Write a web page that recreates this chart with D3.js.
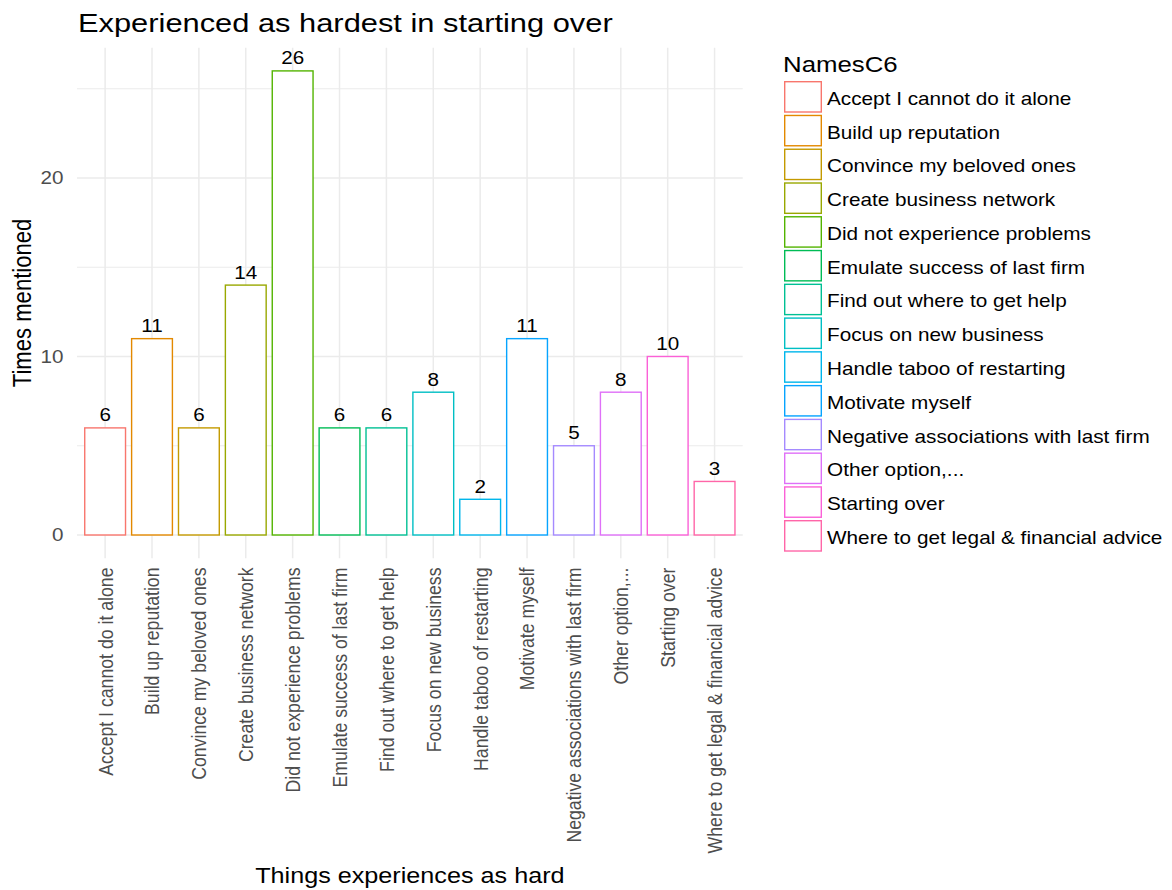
<!DOCTYPE html>
<html>
<head>
<meta charset="utf-8">
<script src="https://cdn.jsdelivr.net/npm/d3@7"></script>
<style>
  html, body { margin: 0; padding: 0; background: #ffffff; }
  svg { display: block; font-family: "Liberation Sans", Arial, sans-serif; }
</style>
</head>
<body>
<svg id="chart" width="1172" height="890"></svg>
<script>
// ---- data ----
const categories = [
  "Accept I cannot do it alone",
  "Build up reputation",
  "Convince my beloved ones",
  "Create business network",
  "Did not experience problems",
  "Emulate success of last firm",
  "Find out where to get help",
  "Focus on new business",
  "Handle taboo of restarting",
  "Motivate myself",
  "Negative associations with last firm",
  "Other option,...",
  "Starting over",
  "Where to get legal & financial advice"
];
const counts = [6, 11, 6, 14, 26, 6, 6, 8, 2, 11, 5, 8, 10, 3];
const colors = ["#F8766D", "#E38900", "#C49A00", "#99A800", "#53B400", "#00BC56", "#00C094",
                "#00BFC4", "#00B6EB", "#06A4FF", "#A58AFF", "#DF70F8", "#FB61D7", "#FF66A8"];
const yMajorTicks = [0, 10, 20];
const yMinorTicks = [5, 15, 25];
const titleText = "Experienced as hardest in starting over";
const xTitle = "Things experiences as hard";
const yTitle = "Times mentioned";
const legendTitle = "NamesC6";

// ---- layout ----
const sx = 1.168;           // horizontal stretch of glyphs in the reference
const base = 22.1;
const panel = { left: 77, right: 742.7, top: 47.7, bottom: 558.2 };

const svg = d3.select("#chart");

const x = d3.scaleBand()
  .domain(categories)
  .range([panel.left, panel.right])
  .paddingInner(0.1)
  .paddingOuter(0.15);

const y = d3.scaleLinear()
  .domain([-1.3, 27.3])
  .range([panel.bottom, panel.top]);

const color = d3.scaleOrdinal().domain(categories).range(colors);

function hText(g, tx, ty, str, size, fill, anchor, dy, sxx) {
  return g.append("text")
    .attr("transform", `translate(${tx},${ty}) scale(${sxx || sx},1)`)
    .attr("font-size", size)
    .attr("fill", fill)
    .attr("text-anchor", anchor || "start")
    .attr("dy", dy || 0)
    .text(str);
}
function vText(g, tx, ty, str, size, fill, anchor, dy) {
  return g.append("text")
    .attr("transform", `translate(${tx},${ty}) scale(${sx},1) rotate(-90)`)
    .attr("font-size", size)
    .attr("fill", fill)
    .attr("text-anchor", anchor || "middle")
    .attr("dy", dy || 0)
    .text(str);
}

// ---- grid ----
const grid = svg.append("g");
grid.selectAll(".ymin").data(yMinorTicks).join("line")
  .attr("x1", panel.left).attr("x2", panel.right)
  .attr("y1", d => y(d)).attr("y2", d => y(d))
  .attr("stroke", "#EBEBEB").attr("stroke-width", 1.1);
grid.selectAll(".ymaj").data(yMajorTicks).join("line")
  .attr("x1", panel.left).attr("x2", panel.right)
  .attr("y1", d => y(d)).attr("y2", d => y(d))
  .attr("stroke", "#EBEBEB").attr("stroke-width", 1.5);
grid.selectAll(".xmaj").data(categories).join("line")
  .attr("x1", d => x(d) + x.bandwidth() / 2).attr("x2", d => x(d) + x.bandwidth() / 2)
  .attr("y1", panel.top).attr("y2", panel.bottom)
  .attr("stroke", "#EBEBEB").attr("stroke-width", 1.5);

// ---- bars ----
const data = categories.map((c, i) => ({ c, v: counts[i] }));
svg.append("g").selectAll("rect").data(data).join("rect")
  .attr("x", d => x(d.c) + 0.7)
  .attr("width", x.bandwidth() - 1.4)
  .attr("y", d => y(d.v))
  .attr("height", d => y(0) - y(d.v))
  .attr("fill", "#ffffff")
  .attr("stroke", d => color(d.c))
  .attr("stroke-width", 1.4);

// ---- bar labels ----
const labG = svg.append("g");
data.forEach(d => {
  hText(labG, x(d.c) + x.bandwidth() / 2, y(d.v) - 6.5, String(d.v), base * 0.8, "#000000", "middle");
});

// ---- y axis ticks ----
const axG = svg.append("g");
yMajorTicks.forEach(t => {
  hText(axG, 63.5, y(t), String(t), base * 0.8, "#4D4D4D", "end", "0.36em");
});

// ---- x axis tick labels ----
categories.forEach(c => {
  vText(axG, x(c) + x.bandwidth() / 2, 567.5, c, base * 0.8, "#4D4D4D", "end", "0.36em");
});

// ---- axis titles ----
vText(svg, 22, (panel.top + panel.bottom) / 2, yTitle, base, "#000000", "middle", "0.36em");
hText(svg, (panel.left + panel.right) / 2, 883, xTitle, base, "#000000", "middle", 0, 1.14);

// ---- title ----
hText(svg, 78, 32, titleText, base * 1.2, "#000000", "start", 0, 1.163);

// ---- legend ----
const leg = svg.append("g");
hText(leg, 783, 72, legendTitle, base, "#000000", "start");
const keyTop = 81, keyStep = 33.77;
categories.forEach((c, i) => {
  const ty = keyTop + i * keyStep;
  leg.append("rect")
    .attr("x", 784.7).attr("y", ty + 0.7)
    .attr("width", 36.6).attr("height", 30.3)
    .attr("fill", "#ffffff")
    .attr("stroke", color(c))
    .attr("stroke-width", 1.4);
  hText(leg, 827, ty + 17.5, c, base * 0.8, "#000000", "start", "0.36em", 1.173);
});
</script>
</body>
</html>
